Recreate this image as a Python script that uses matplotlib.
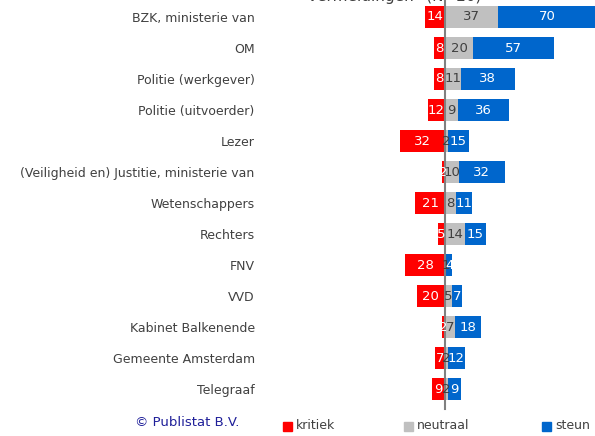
import matplotlib
matplotlib.use("Agg")
import matplotlib.pyplot as plt
from matplotlib.patches import Rectangle
import numpy as np

categories = ["BZK, ministerie van", "OM", "Politie (werkgever)", "Politie (uitvoerder)",
              "Lezer", "(Veiligheid en) Justitie, ministerie van", "Wetenschappers",
              "Rechters", "FNV", "VVD", "Kabinet Balkenende", "Gemeente Amsterdam", "Telegraaf"]
kritiek = [14, 8, 8, 12, 32, 2, 21, 5, 28, 20, 2, 7, 9]
neutraal = [37, 20, 11, 9, 2, 10, 8, 14, 1, 5, 7, 2, 2]
steun = [70, 57, 38, 36, 15, 32, 11, 15, 4, 7, 18, 12, 9]
series_names = ["kritiek", "neutraal", "steun"]

RED, GREY, BLUE = "#FF0000", "#C0C0C0", "#0066CC"
TXT = "#404040"
W, H = 595, 436
fig = plt.figure(figsize=(W / 100, H / 100), dpi=100)

ax_left, ax_right = 270, 595
zero_px = 445
ppu = 1.42
xmin = -(zero_px - ax_left) / ppu
xmax = (ax_right - zero_px) / ppu
top_px, bot_px = 1.5, 404.5
ax = fig.add_axes([ax_left / W, 1 - bot_px / H, (ax_right - ax_left) / W, (bot_px - top_px) / H])
ax.set_xlim(xmin, xmax)
n = len(categories)
ax.set_ylim(n - 0.5, -0.5)

y = np.arange(n)
k = np.array(kritiek)
nt = np.array(neutraal)
s = np.array(steun)
h = 0.73
ax.barh(y, -k, height=h, color=RED, left=0)
ax.barh(y, nt, height=h, color=GREY, left=0)
ax.barh(y, s, height=h, color=BLUE, left=nt)

fs = 9.5
for i in range(n):
    ax.text(-k[i] / 2, y[i], str(k[i]), ha="center", va="center", color="white", fontsize=fs)
    ax.text(nt[i] / 2, y[i], str(nt[i]), ha="center", va="center", color=TXT, fontsize=fs)
    ax.text(nt[i] + s[i] / 2, y[i], str(s[i]), ha="center", va="center", color="white", fontsize=fs)

ax.axvline(0, color="#808080", lw=1.5, ymin=-0.01, ymax=1.02, clip_on=False)

ax.set_yticks(y)
ax.set_yticklabels(categories, fontsize=9, color=TXT)
ax.tick_params(axis="y", length=0, pad=11)
ax.set_xticks([])
for sp in ax.spines.values():
    sp.set_visible(False)

fig.text(395 / W, 1 - (-3) / H, "vermeldingen* (N=20)", ha="center", va="center",
         fontsize=11, color=TXT)

fig.text(187 / W, 1 - 422 / H, "© Publistat B.V.", ha="center", va="center",
         fontsize=9.5, color="#1F1F99")

leg = [(283, RED, "kritiek"), (404, GREY, "neutraal"), (542, BLUE, "steun")]
for xp, c, lab in leg:
    fig.patches.append(Rectangle((xp / W, 1 - 431 / H), 9 / W, 9 / H, transform=fig.transFigure,
                                 color=c, figure=fig))
    fig.text((xp + 13) / W, 1 - 425 / H, lab, ha="left", va="center", fontsize=9, color=TXT)

fig.savefig("out.png", dpi=100)
